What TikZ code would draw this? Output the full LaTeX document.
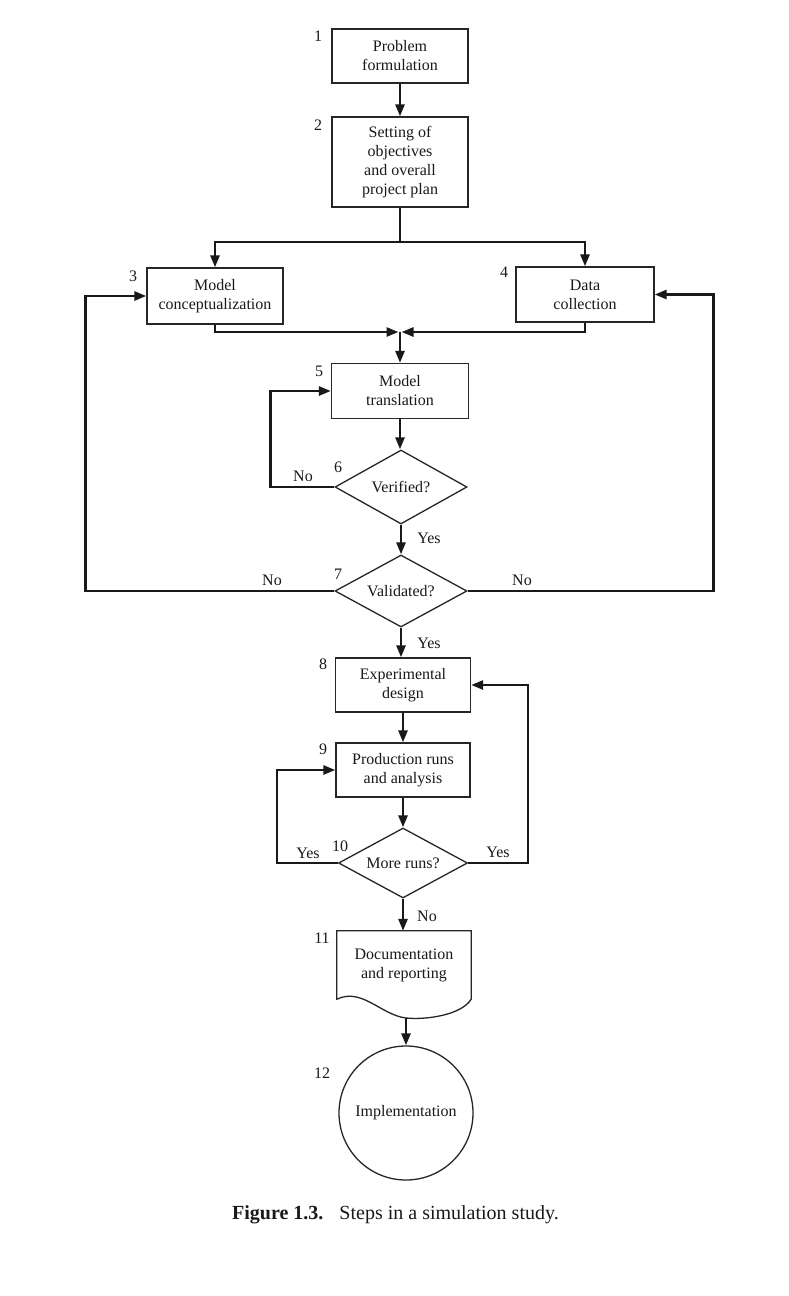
\documentclass[tikz,border=0pt]{standalone}
\usepackage{fontspec}
\setmainfont{Liberation Serif}
\usetikzlibrary{arrows.meta,shapes.geometric,calc}
\begin{document}
\begin{tikzpicture}[x=1pt,y=-1pt,
  txt/.style={font=\fontsize{16}{19}\selectfont, text=black!90},
  box/.style={txt, draw=black!85, line width=1.3pt, rectangle, minimum width=136pt, minimum height=54pt, inner sep=0pt, align=center},
  dec/.style={txt, draw=black!85, line width=1.3pt, diamond, aspect=1.8, inner sep=0pt},
  conn/.style={line width=2.6pt, draw=black!90},
  arr/.style={conn, -{Triangle[length=12pt,width=9pt]}},
  lab/.style={txt, inner sep=0pt}]
\fill[white] (0,0) rectangle (788,1296);
\useasboundingbox (0,0) rectangle (788,1296);

% nodes
\node[box] (b1) at (400,56) {Problem\\formulation};
\node[box, minimum height=90pt] (b2) at (400,162) {Setting of\\objectives\\and overall\\project plan};
\node[box, minimum height=56pt] (b3) at (215,296) {Model\\conceptualization};
\node[box, minimum width=138pt, minimum height=55pt] (b4) at (585,294.5) {Data\\collection};
\node[box, minimum width=137pt, minimum height=55pt] (b5) at (400,391) {Model\\translation};
\node[dec, minimum width=132pt, minimum height=74pt] (d6) at (401,487) {Verified?};
\node[dec, minimum width=132pt, minimum height=72pt] (d7) at (401,591) {Validated?};
\node[box, minimum width=135pt] (b8) at (403,685) {Experimental\\design};
\node[box, minimum width=134pt] (b9) at (403,770) {Production runs\\and analysis};
\node[dec, minimum width=129pt, minimum height=70pt] (d10) at (403,863) {More runs?};
\node[txt, inner sep=0pt, minimum width=134pt, minimum height=68pt, align=center] (b11) at (404,965) {Documentation\\and reporting};
\coordinate (docbot) at (406,1018);
\draw[draw=black!85, line width=1.3pt] (b11.south west) -- (b11.north west) -- (b11.north east) -- (b11.south east)
  .. controls ($(b11.south east)+(-10,16)$) and ($(docbot)+(20,2)$) .. (docbot)
  .. controls ($(docbot)+(-25,-3)$) and ($(b11.south west)+(25,-12)$) .. (b11.south west) -- cycle;
\node[txt, draw=black!85, line width=1.3pt, circle, minimum size=134pt, inner sep=0pt] (c12) at (406,1113) {Implementation};

% connectors
\coordinate (split) at (400,242);
\coordinate (merge) at (400,332);
\draw[arr] (b1.south) -- (b2.north);
\draw[conn] (b2.south) -- (split);
\draw[arr] (split) -| (b3.north);
\draw[arr] (split) -| (b4.north);
\draw[arr, shorten >=1.5pt] (b3.south) |- (merge);
\draw[arr, shorten >=1.5pt] (b4.south) |- (merge);
\draw[arr] (merge) -- (b5.north);
\draw[arr] (b5.south) -- (b5.south |- d6.north);
\draw[arr] (d6.south) -- (d7.north);
\draw[arr] (d7.south) -- (d7.south |- b8.north);
\draw[arr] (b8.south) -- (b9.north);
\draw[arr] (b9.south) -- (d10.north);
\draw[arr] (d10.south) -- (d10.south |- b11.north);
\draw[arr] (docbot) -- (docbot |- c12.north);
\draw[arr] (d6.west) -- ++(-64,0) |- (b5.west);
\draw[arr] (d7.west) -- ++(-249,0) |- (b3.west);
\draw[arr] (d7.east) -- ++(246,0) |- (b4.east);
\draw[arr] (d10.west) -- ++(-61,0) |- (b9.west);
\draw[arr] (d10.east) -- ++(60,0) |- (b8.east);

% step numbers
\node[lab] (n1) at (318,36) {1};
\node[lab] (n2) at (318,125) {2};
\node[lab] (n3) at (133,276) {3};
\node[lab] (n4) at (504,272) {4};
\node[lab] (n5) at (319,371) {5};
\node[lab] (n6) at (338,467) {6};
\node[lab] (n7) at (338,574) {7};
\node[lab] (n8) at (323,664) {8};
\node[lab] (n9) at (323,749) {9};
\node[lab] (n10) at (340,846) {10};
\node[lab] (n11) at (322,938) {11};
\node[lab] (n12) at (322,1073) {12};

% branch labels
\node[lab] (l6no) at (303,476) {No};
\node[lab] (l6yes) at (429,538) {Yes};
\node[lab] (l7nol) at (272,580) {No};
\node[lab] (l7nor) at (522,580) {No};
\node[lab] (l7yes) at (429,643) {Yes};
\node[lab] (l10yl) at (308,853) {Yes};
\node[lab] (l10yr) at (498,852) {Yes};
\node[lab] (l10no) at (427,916) {No};

% caption
\node[anchor=west, inner sep=0pt, font=\fontsize{20}{24}\selectfont, text=black!90] (cap) at (232,1215)
  {\textbf{Figure 1.3.}\hspace{16pt}Steps in a simulation study.};
\end{tikzpicture}
\end{document}
